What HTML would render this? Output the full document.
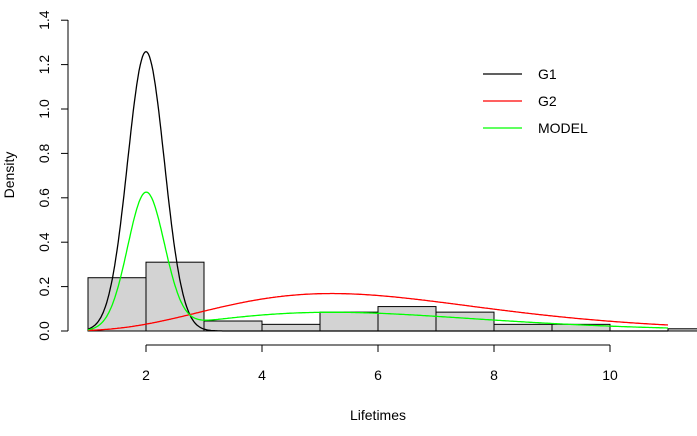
<!DOCTYPE html>
<html><head><meta charset="utf-8"><style>
body{margin:0;background:#fff}
svg{display:block;font-family:"Liberation Sans",Arial,sans-serif}
</style></head><body>
<svg id="s" width="697" height="436" viewBox="0 0 697 436" xmlns="http://www.w3.org/2000/svg">
<rect width="697" height="436" fill="#fff"/>
<g id="bars" fill="#d3d3d3" stroke="#000" stroke-width="1"></g>
<g fill="none" stroke-width="1.3">
<path id="g1" stroke="#000"/>
<path id="g2" stroke="#ff0000"/>
<path id="gm" stroke="#00ff00"/>
</g>
<g stroke="#000" stroke-width="1">
<line x1="68" y1="20" x2="68" y2="331"/>
<line x1="146" y1="345" x2="610" y2="345"/>
</g>
<g id="ticks" stroke="#000"></g>
<g font-size="14" fill="#000" id="lbl"></g>
<text x="378" y="420" font-size="14" text-anchor="middle">Lifetimes</text>
<text transform="translate(14,175) rotate(-90)" font-size="14" text-anchor="middle">Density</text>
<g stroke-width="1.3">
<line x1="483" y1="74" x2="522" y2="74" stroke="#000"/>
<line x1="483" y1="101" x2="522" y2="101" stroke="#ff0000"/>
<line x1="483" y1="128" x2="522" y2="128" stroke="#00ff00"/>
</g>
<g font-size="14"><text x="538" y="79">G1</text><text x="538" y="106">G2</text><text x="538" y="133">MODEL</text></g>
</svg>
<script>
var X=function(v){return 146+(v-2)*58},Y=function(d){return 331-d*222};
var ns="http://www.w3.org/2000/svg";
function el(p,t,a){var e=document.createElementNS(ns,t);for(var k in a)e.setAttribute(k,a[k]);p.appendChild(e);return e}
var h=[0.24,0.31,0.045,0.03,0.085,0.11,0.085,0.03,0.03,0,0.01];
var b=document.getElementById('bars');
h.forEach(function(v,i){el(b,'rect',{x:X(1+i),y:Y(v),width:58,height:v*222})});
function n(x,m,s){return Math.exp(-(x-m)*(x-m)/(2*s*s))/(s*2.5066)}
function g(x){var k=6,t=1.04;return Math.pow(x,k-1)*Math.exp(-x/t)/(120*Math.pow(t,k))}
var a='',c='',d='';
for(var i=0;i<=500;i++){var x=1+i*10/500;var p1=n(x,2,0.317),p2=g(x);
var pre=i?'L':'M';a+=pre+X(x).toFixed(1)+' '+Y(p1).toFixed(1);c+=pre+X(x).toFixed(1)+' '+Y(p2).toFixed(1);d+=pre+X(x).toFixed(1)+' '+Y(0.485*p1+0.5*p2).toFixed(1);}
document.getElementById('g1').setAttribute('d',a);
document.getElementById('g2').setAttribute('d',c);
document.getElementById('gm').setAttribute('d',d);
var t=document.getElementById('ticks'),l=document.getElementById('lbl');
for(var k=0;k<=7;k++){var y=Y(k*0.2);el(t,'line',{x1:61,y1:y,x2:68,y2:y});
var tx=el(l,'text',{transform:'translate(49,'+y+') rotate(-90)','text-anchor':'middle'});tx.textContent=(k*0.2).toFixed(1);}
for(var v=2;v<=10;v+=2){var x=X(v);el(t,'line',{x1:x,y1:345,x2:x,y2:352});var tx=el(l,'text',{x:x,y:380,'text-anchor':'middle'});tx.textContent=v;}
</script>
</body></html>
